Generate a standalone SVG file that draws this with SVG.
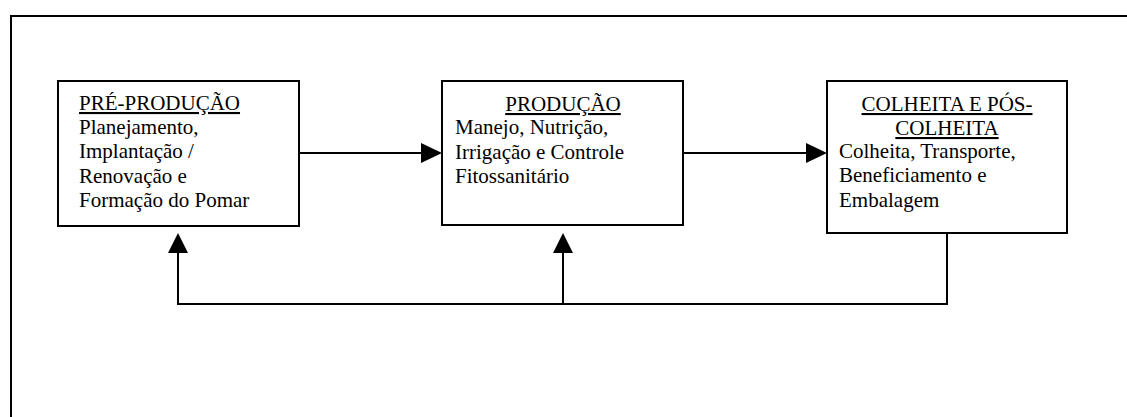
<svg xmlns="http://www.w3.org/2000/svg" width="1127" height="417" viewBox="0 0 1127 417">
<defs>
<style>
.box{fill:#fff;stroke:#000;stroke-width:2}
.t{font-family:"Liberation Serif","Times New Roman",serif;font-size:21px;fill:#000}
.u{text-decoration:underline}
.c{fill:none;stroke:#000;stroke-width:2}
.h{fill:#000}
</style>
</defs>
<rect width="1127" height="417" fill="#fff"/>
<path d="M11,417 L11,16 L1127,16" fill="none" stroke="#000" stroke-width="2"/>
<g id="node-pre">
<rect class="box" x="58" y="81" width="241" height="145"/>
<text class="t u" x="79" y="110">PRÉ-PRODUÇÃO</text>
<text class="t" x="79" y="134">Planejamento,</text>
<text class="t" x="79" y="158">Implantação /</text>
<text class="t" x="79" y="183">Renovação e</text>
<text class="t" x="79" y="207">Formação do Pomar</text>
</g>
<g id="node-producao">
<rect class="box" x="442" y="81" width="241" height="144"/>
<text class="t u" x="563" y="111" text-anchor="middle">PRODUÇÃO</text>
<text class="t" x="455" y="134">Manejo, Nutrição,</text>
<text class="t" x="455" y="159">Irrigação e Controle</text>
<text class="t" x="455" y="183">Fitossanitário</text>
</g>
<g id="node-colheita">
<rect class="box" x="827" y="81" width="240" height="152"/>
<text class="t u" x="947" y="111" text-anchor="middle">COLHEITA E PÓS-</text>
<text class="t u" x="947" y="135" text-anchor="middle">COLHEITA</text>
<text class="t" x="839" y="158">Colheita, Transporte,</text>
<text class="t" x="839" y="182">Beneficiamento e</text>
<text class="t" x="839" y="207">Embalagem</text>
</g>
<g id="connectors">
<line class="c" x1="299" y1="153" x2="422" y2="153"/>
<path class="h" d="M442,153 L421,143 L421,163 z"/>
<line class="c" x1="683" y1="153" x2="807" y2="153"/>
<path class="h" d="M827,153 L806,143 L806,163 z"/>
<path class="c" d="M947,233 L947,304 L178,304 L178,252"/>
<path class="h" d="M178,233 L168,253 L188,253 z"/>
<line class="c" x1="563" y1="304" x2="563" y2="252"/>
<path class="h" d="M563,233 L553,253 L573,253 z"/>
</g>
</svg>
